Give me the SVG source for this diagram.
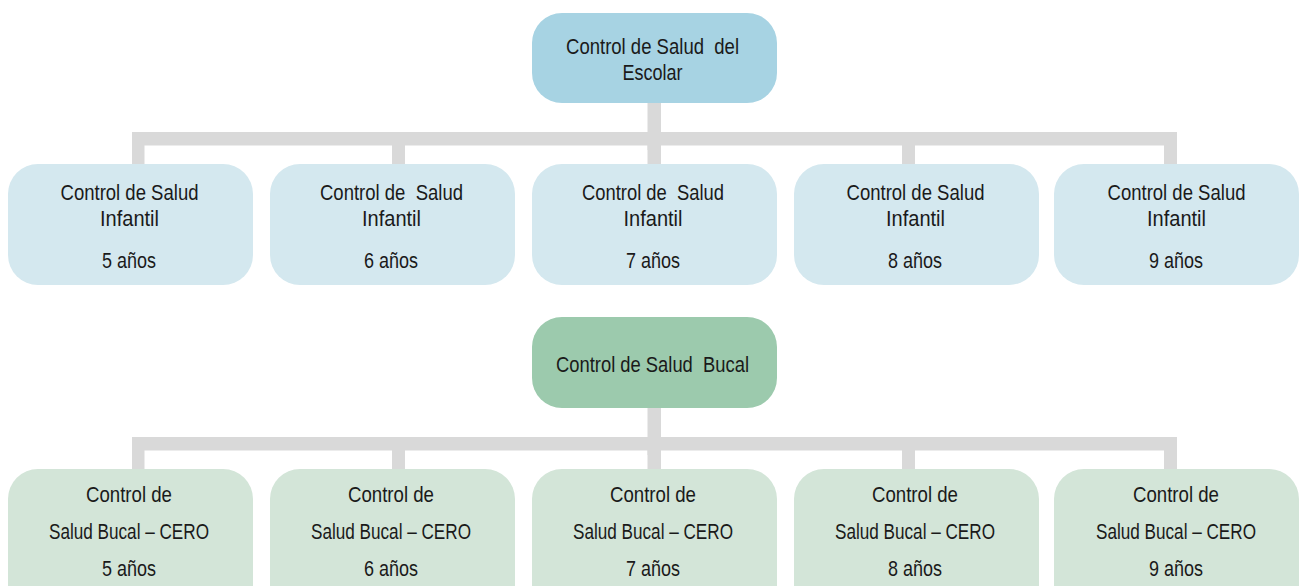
<svg xmlns="http://www.w3.org/2000/svg" width="1299" height="586" viewBox="0 0 1299 586">
<style>
text{font-family:"Liberation Sans",Arial,sans-serif;font-size:22px;fill:#1a1a1a;text-anchor:middle;white-space:pre}
.conn{fill:#d9d9d9}
.top{fill:#a7d3e3}
.inf{fill:#d4e8ef}
.buc{fill:#9ccaad}
.cero{fill:#d3e5d8}
</style>
<defs>
<path id="ceroShape" d="M0,30 A30,30 0 0 1 30,0 H215 A30,30 0 0 1 245,30 V117 H0 Z"/>
</defs>
<rect width="1299" height="586" fill="#ffffff"/>
<g id="connectors" class="conn">
<rect x="647.5" y="100" width="13.5" height="50"/>
<rect x="132" y="132" width="1045" height="13.5"/>
<rect x="132" y="132" width="12.5" height="34"/>
<rect x="392" y="132" width="13" height="34"/>
<rect x="647.5" y="132" width="13.5" height="34"/>
<rect x="902" y="132" width="13" height="34"/>
<rect x="1164" y="132" width="13" height="34"/>
<rect x="647.5" y="405" width="13.5" height="50"/>
<rect x="132" y="437" width="1045" height="13.5"/>
<rect x="132" y="437" width="12.5" height="34"/>
<rect x="392" y="437" width="13" height="34"/>
<rect x="647.5" y="437" width="13.5" height="34"/>
<rect x="902" y="437" width="13" height="34"/>
<rect x="1164" y="437" width="13" height="34"/>
</g>
<g id="escolar">
<rect class="top" x="532" y="13" width="245" height="90" rx="30"/>
<text x="652.5" y="53.5" textLength="173" lengthAdjust="spacingAndGlyphs">Control de Salud  del</text>
<text x="652.5" y="80" textLength="60" lengthAdjust="spacingAndGlyphs">Escolar</text>
</g>
<g id="inf5">
<rect class="inf" x="8" y="164" width="245" height="121" rx="30"/>
<text x="129.5" y="200" textLength="138" lengthAdjust="spacingAndGlyphs">Control de Salud</text>
<text x="129.5" y="226" textLength="59" lengthAdjust="spacingAndGlyphs">Infantil</text>
<text x="129" y="267.5" textLength="54" lengthAdjust="spacingAndGlyphs">5 años</text>
</g>
<g id="inf6">
<rect class="inf" x="270" y="164" width="245" height="121" rx="30"/>
<text x="391.5" y="200" textLength="143" lengthAdjust="spacingAndGlyphs">Control de  Salud</text>
<text x="391.5" y="226" textLength="59" lengthAdjust="spacingAndGlyphs">Infantil</text>
<text x="391" y="267.5" textLength="54" lengthAdjust="spacingAndGlyphs">6 años</text>
</g>
<g id="inf7">
<rect class="inf" x="532" y="164" width="245" height="121" rx="30"/>
<text x="653" y="200" textLength="142" lengthAdjust="spacingAndGlyphs">Control de  Salud</text>
<text x="653" y="226" textLength="59" lengthAdjust="spacingAndGlyphs">Infantil</text>
<text x="653" y="267.5" textLength="54" lengthAdjust="spacingAndGlyphs">7 años</text>
</g>
<g id="inf8">
<rect class="inf" x="794" y="164" width="245" height="121" rx="30"/>
<text x="915.5" y="200" textLength="138" lengthAdjust="spacingAndGlyphs">Control de Salud</text>
<text x="915.5" y="226" textLength="59" lengthAdjust="spacingAndGlyphs">Infantil</text>
<text x="915" y="267.5" textLength="54" lengthAdjust="spacingAndGlyphs">8 años</text>
</g>
<g id="inf9">
<rect class="inf" x="1054" y="164" width="245" height="121" rx="30"/>
<text x="1176.5" y="200" textLength="138" lengthAdjust="spacingAndGlyphs">Control de Salud</text>
<text x="1176.5" y="226" textLength="59" lengthAdjust="spacingAndGlyphs">Infantil</text>
<text x="1176" y="267.5" textLength="54" lengthAdjust="spacingAndGlyphs">9 años</text>
</g>
<g id="bucal">
<rect class="buc" x="532" y="317" width="245" height="91" rx="30"/>
<text x="652.5" y="372" textLength="193" lengthAdjust="spacingAndGlyphs">Control de Salud  Bucal</text>
</g>
<g id="cero5">
<use href="#ceroShape" class="cero" x="8" y="469"/>
<text x="129" y="502" textLength="86" lengthAdjust="spacingAndGlyphs">Control de</text>
<text x="129" y="539" textLength="160" lengthAdjust="spacingAndGlyphs">Salud Bucal – CERO</text>
<text x="129" y="576" textLength="54" lengthAdjust="spacingAndGlyphs">5 años</text>
</g>
<g id="cero6">
<use href="#ceroShape" class="cero" x="270" y="469"/>
<text x="391" y="502" textLength="86" lengthAdjust="spacingAndGlyphs">Control de</text>
<text x="391" y="539" textLength="160" lengthAdjust="spacingAndGlyphs">Salud Bucal – CERO</text>
<text x="391" y="576" textLength="54" lengthAdjust="spacingAndGlyphs">6 años</text>
</g>
<g id="cero7">
<use href="#ceroShape" class="cero" x="532" y="469"/>
<text x="653" y="502" textLength="86" lengthAdjust="spacingAndGlyphs">Control de</text>
<text x="653" y="539" textLength="160" lengthAdjust="spacingAndGlyphs">Salud Bucal – CERO</text>
<text x="653" y="576" textLength="54" lengthAdjust="spacingAndGlyphs">7 años</text>
</g>
<g id="cero8">
<use href="#ceroShape" class="cero" x="794" y="469"/>
<text x="915" y="502" textLength="86" lengthAdjust="spacingAndGlyphs">Control de</text>
<text x="915" y="539" textLength="160" lengthAdjust="spacingAndGlyphs">Salud Bucal – CERO</text>
<text x="915" y="576" textLength="54" lengthAdjust="spacingAndGlyphs">8 años</text>
</g>
<g id="cero9">
<use href="#ceroShape" class="cero" x="1054" y="469"/>
<text x="1176" y="502" textLength="86" lengthAdjust="spacingAndGlyphs">Control de</text>
<text x="1176" y="539" textLength="160" lengthAdjust="spacingAndGlyphs">Salud Bucal – CERO</text>
<text x="1176" y="576" textLength="54" lengthAdjust="spacingAndGlyphs">9 años</text>
</g>
</svg>
